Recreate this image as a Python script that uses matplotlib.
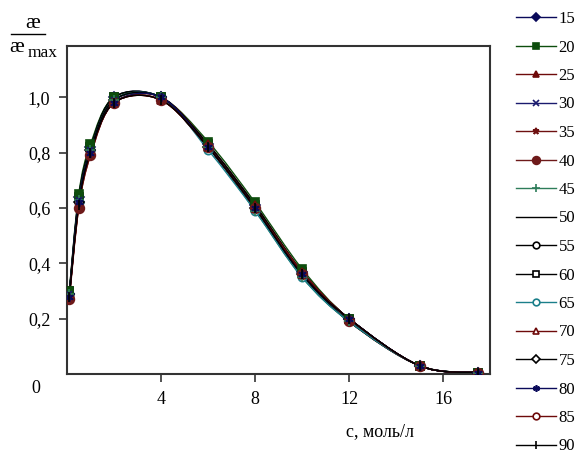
import matplotlib
matplotlib.use("Agg")
import matplotlib.pyplot as plt
from matplotlib.lines import Line2D
from matplotlib.path import Path
from matplotlib.patches import PathPatch
import numpy as np

plt.rcParams['font.family'] = ['Liberation Serif', 'DejaVu Serif']

# =========================
# DATA
# =========================
conc = [0.1, 0.5, 1, 2, 4, 6, 8, 10, 12, 15, 17.5]

temps = ['15', '20', '25', '30', '35', '40', '45', '50',
         '55', '60', '65', '70', '75', '80', '85', '90']

ratio = {
    '15': [0.29, 0.64, 0.82, 1.00, 1.00, 0.83, 0.61, 0.37, 0.20, 0.03, 0.005],
    '20': [0.30, 0.65, 0.83, 1.00, 1.00, 0.84, 0.62, 0.38, 0.20, 0.03, 0.005],
    '25': [0.28, 0.61, 0.80, 0.98, 1.00, 0.83, 0.61, 0.37, 0.20, 0.03, 0.005],
    '30': [0.29, 0.63, 0.81, 0.99, 1.00, 0.82, 0.60, 0.36, 0.20, 0.03, 0.005],
    '35': [0.28, 0.61, 0.80, 0.98, 0.99, 0.82, 0.60, 0.36, 0.19, 0.03, 0.005],
    '40': [0.27, 0.60, 0.79, 0.98, 0.99, 0.82, 0.60, 0.36, 0.19, 0.03, 0.005],
    '45': [0.29, 0.63, 0.81, 0.99, 1.00, 0.82, 0.59, 0.35, 0.19, 0.03, 0.005],
    '50': [0.29, 0.63, 0.81, 0.99, 1.00, 0.82, 0.60, 0.36, 0.19, 0.03, 0.005],
    '55': [0.29, 0.62, 0.81, 0.99, 1.00, 0.82, 0.60, 0.36, 0.20, 0.03, 0.005],
    '60': [0.30, 0.64, 0.82, 1.00, 1.00, 0.83, 0.61, 0.37, 0.20, 0.03, 0.005],
    '65': [0.29, 0.62, 0.81, 0.99, 1.00, 0.81, 0.59, 0.35, 0.19, 0.03, 0.005],
    '70': [0.28, 0.61, 0.80, 0.98, 0.99, 0.82, 0.60, 0.36, 0.20, 0.03, 0.005],
    '75': [0.29, 0.62, 0.81, 0.99, 1.00, 0.82, 0.60, 0.36, 0.20, 0.03, 0.005],
    '80': [0.28, 0.62, 0.80, 0.98, 1.00, 0.82, 0.60, 0.36, 0.20, 0.03, 0.005],
    '85': [0.28, 0.60, 0.79, 0.98, 0.99, 0.82, 0.60, 0.37, 0.20, 0.03, 0.005],
    '90': [0.28, 0.61, 0.80, 0.98, 0.99, 0.82, 0.60, 0.36, 0.20, 0.03, 0.005],
}

x_ticks = [4, 8, 12, 16]
y_ticks = [0.2, 0.4, 0.6, 0.8, 1.0]
y_tick_labels = ['0,2', '0,4', '0,6', '0,8', '1,0']

# (color, marker, filled, marker size)
STYLE = {
    '15': ('#0a0a5a', 'D', True, 5),
    '20': ('#0d4d0d', 's', True, 6),
    '25': ('#6e0a0a', '^', True, 6),
    '30': ('#1a1a6e', 'x', True, 5),
    '35': ('#6e1010', '*', True, 6),
    '40': ('#6e1a1a', 'o', True, 7),
    '45': ('#2e7d5a', '+', True, 7),
    '50': ('#000000', '',  True, 0),
    '55': ('#000000', 'o', False, 6),
    '60': ('#000000', 's', False, 6),
    '65': ('#1b7f8a', 'o', False, 6),
    '70': ('#6e0a0a', '^', False, 6),
    '75': ('#000000', 'D', False, 5),
    '80': ('#0a0a5a', (6, 2, 0), True, 6),
    '85': ('#6e0a0a', 'o', False, 6),
    '90': ('#000000', '|', True, 7),
}


def smooth_path(x, y):
    """Bezier path through the points, like Excel 'smoothed line'."""
    pts = np.column_stack([x, y]).astype(float)
    n = len(pts)
    verts = [pts[0]]
    codes = [Path.MOVETO]
    for i in range(n - 1):
        p0 = pts[i - 1] if i > 0 else pts[i]
        p1 = pts[i]
        p2 = pts[i + 1]
        p3 = pts[i + 2] if i + 2 < n else pts[i + 1]
        c1 = p1 + (p2 - p0) / 6.0
        c2 = p2 - (p3 - p1) / 6.0
        verts += [c1, c2, p2]
        codes += [Path.CURVE4] * 3
    return Path(verts, codes)


fig = plt.figure(figsize=(5.79, 4.61), dpi=100)
ax = fig.add_axes([0.1157, 0.1887, 0.7306, 0.7115])

handles = []
for t in temps:
    col, mk, filled, ms = STYLE[t]
    patch = PathPatch(smooth_path(conc, ratio[t]), facecolor='none',
                      edgecolor=col, linewidth=1.0, transform=ax.transData)
    ax.add_patch(patch)
    face = col if filled else 'white'
    if mk:
        # filled markers sit on top, as in the original
        ax.plot(conc, ratio[t], linestyle='none', marker=mk, markersize=ms,
                markerfacecolor=face, markeredgecolor=col, markeredgewidth=1.2,
                zorder=4 if filled else 3)
    handles.append(Line2D([], [], color=col, linewidth=1.0, marker=mk if mk else None,
                          markersize=ms, markerfacecolor=face,
                          markeredgecolor=col, markeredgewidth=1.2))

ax.set_xlim(0, 18)
ax.set_ylim(0, 1.185)
ax.set_xticks(x_ticks)
ax.set_xticklabels([str(v) for v in x_ticks])
ax.set_yticks(y_ticks)
ax.set_yticklabels(y_tick_labels)
ax.tick_params(axis='both', direction='out', length=6, width=1.2,
               color='#333333', labelsize=13, pad=6)
for sp in ax.spines.values():
    sp.set_color('#333333')
    sp.set_linewidth(1.5)

# origin label
ax.text(-0.0635, -0.045, '0', transform=ax.transAxes, fontsize=13,
        ha='right', va='center')

# axis labels
fig.text(380 / 579, 1 - 432 / 461, 'с, моль/л', fontsize=13,
         ha='center', va='center')
fig.text(33 / 579, 1 - 24 / 461, 'æ', fontsize=16, ha='center', va='center')
fig.add_artist(Line2D([11 / 579, 45 / 579], [1 - 34 / 461, 1 - 34 / 461],
                      color='black', linewidth=1.0))
fig.text(17 / 579, 1 - 48 / 461, 'æ', fontsize=16, ha='center', va='center')
fig.text(28 / 579, 1 - 53 / 461, 'max', fontsize=12.5, ha='left', va='center')

fig.legend(handles, temps, loc='upper left',
           bbox_to_anchor=(516 / 579, 1 - 11 / 461), frameon=False,
           fontsize=12, handlelength=2.4, handletextpad=0.15,
           labelspacing=0.75, borderpad=0, borderaxespad=0, markerscale=0.8)

fig.savefig('out.png', dpi=100)
